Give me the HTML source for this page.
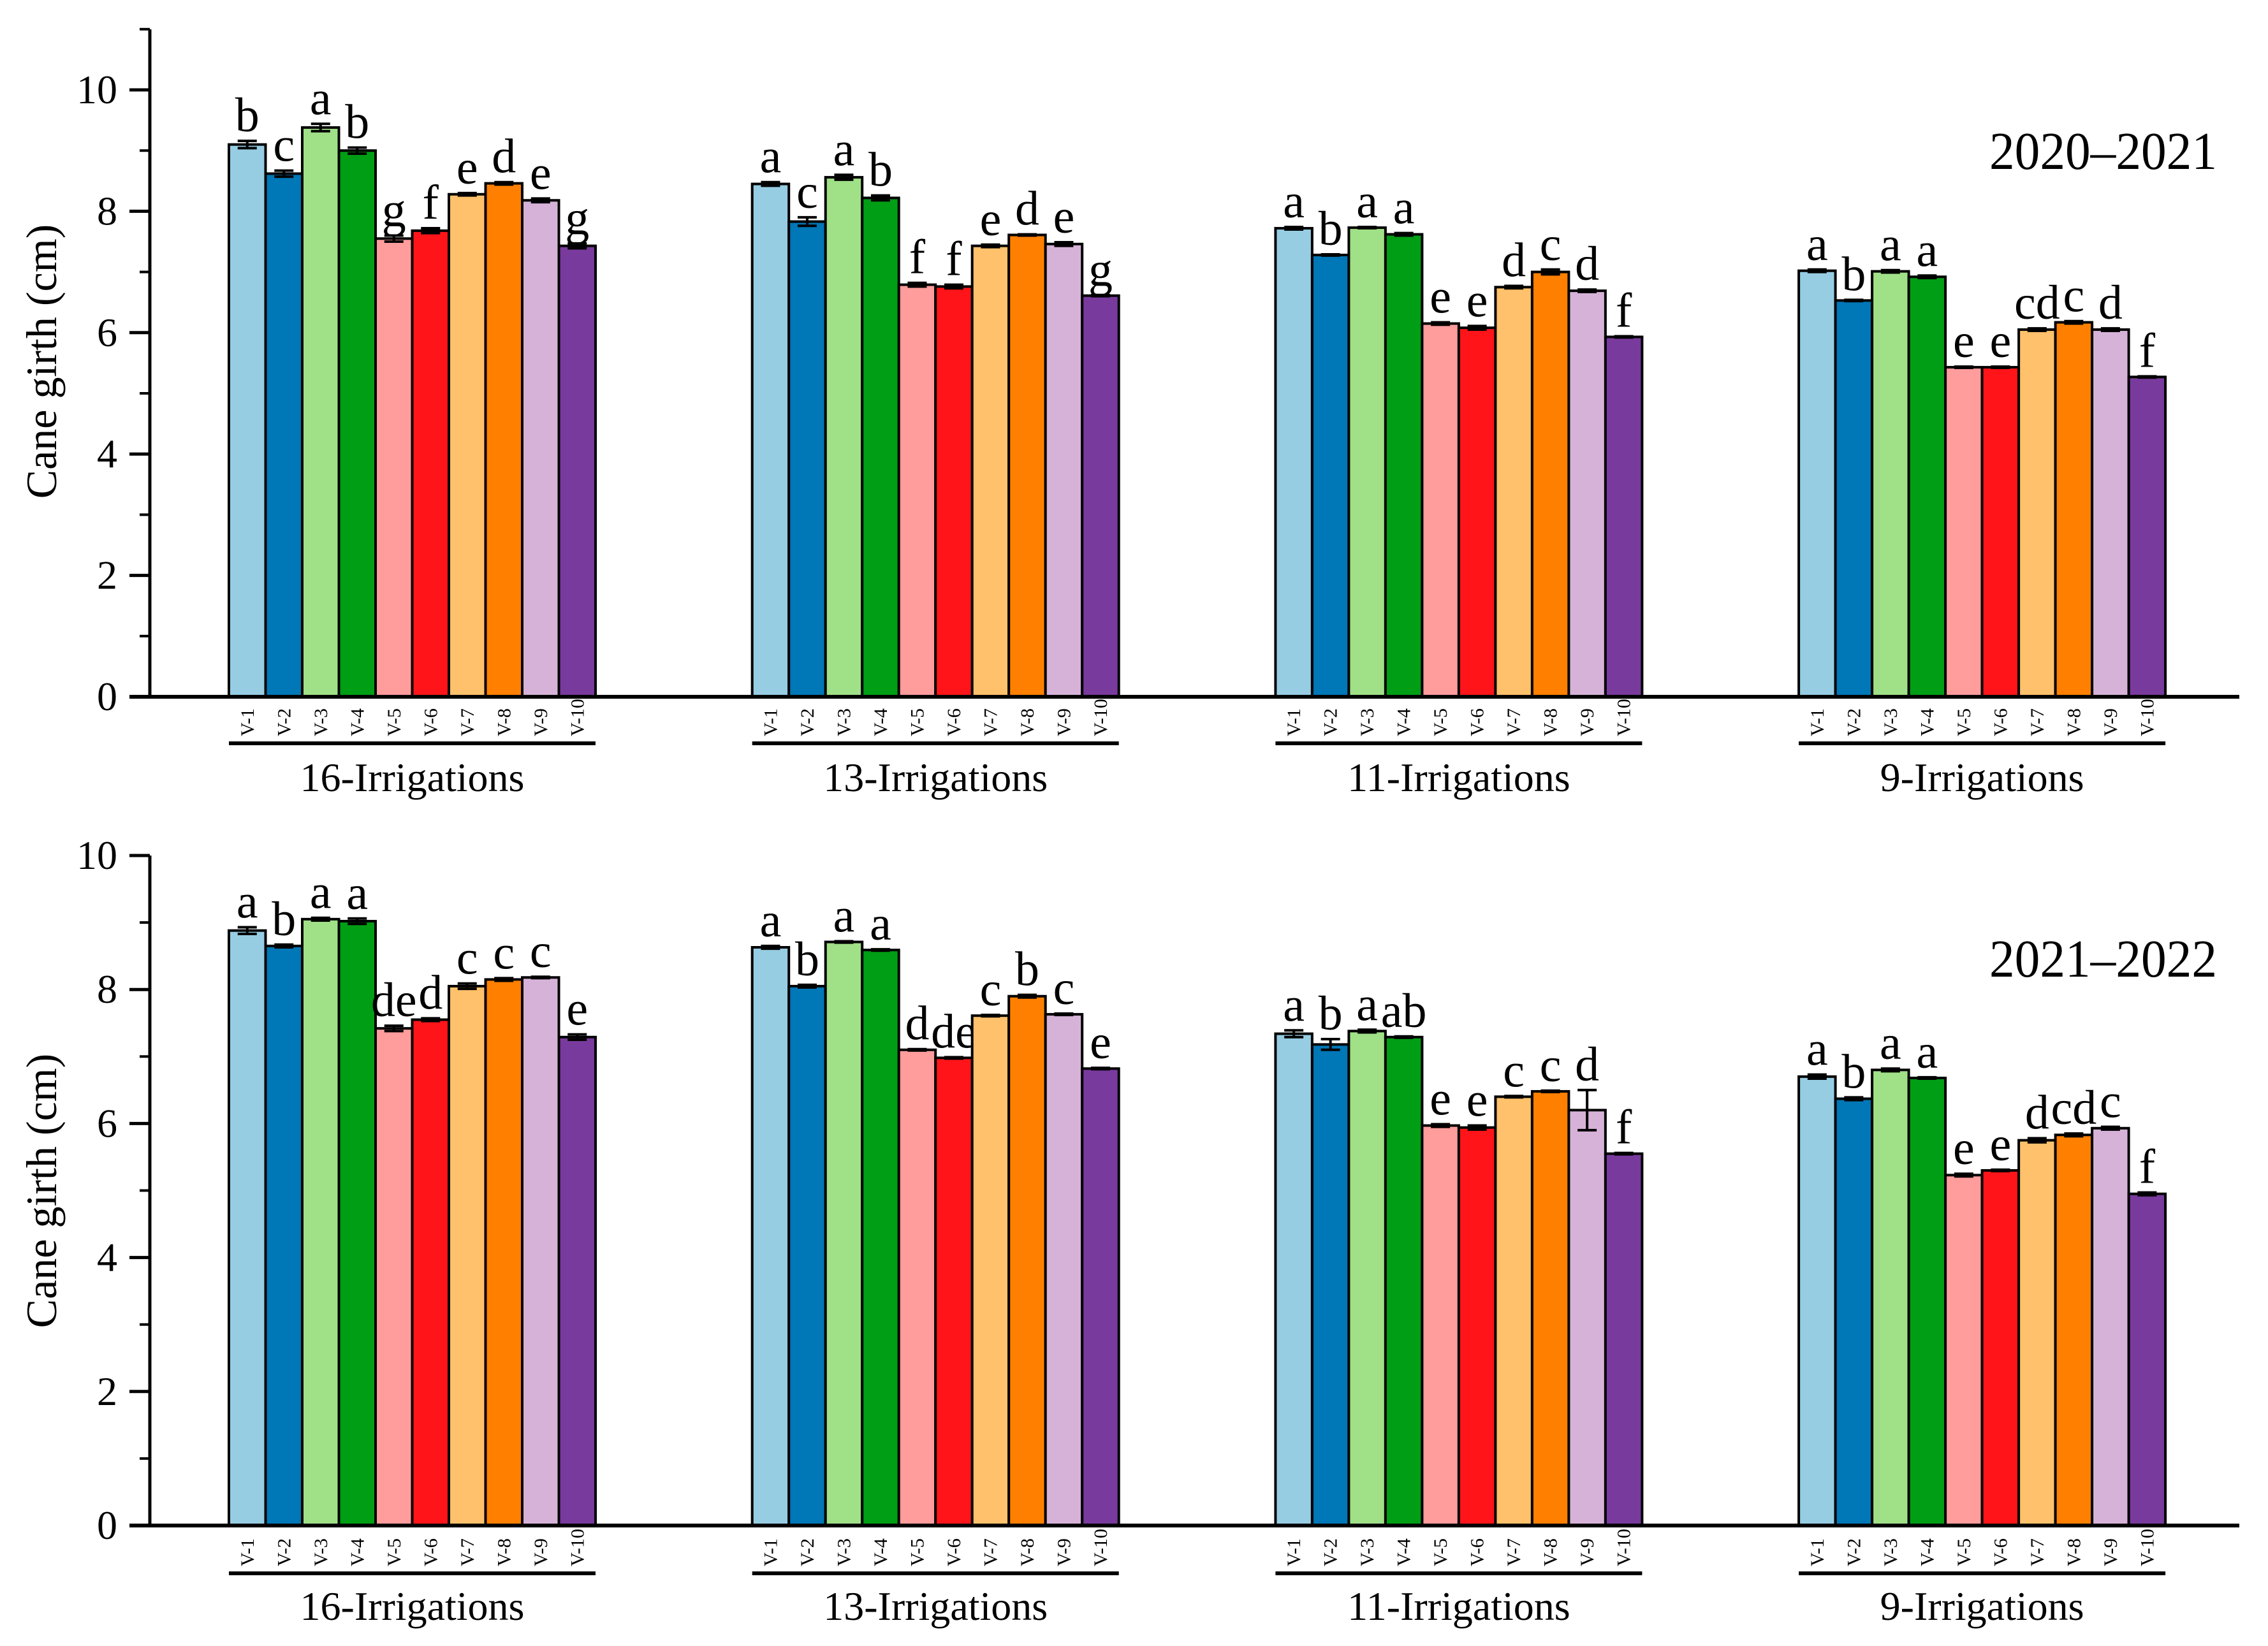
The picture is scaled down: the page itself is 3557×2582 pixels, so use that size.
<!DOCTYPE html>
<html><head><meta charset="utf-8"><style>
html,body{margin:0;padding:0;background:#fff}
svg{display:block}
svg text{font-family:"Liberation Serif","Times New Roman",serif !important;fill:#000}
</style></head>
<body>
<svg id="chart" xmlns="http://www.w3.org/2000/svg" width="3557" height="2582" viewBox="0 0 3557 2582" font-family="Liberation Serif, serif"></svg>
<script>
// ---- data ----
const groups = ["16-Irrigations","13-Irrigations","11-Irrigations","9-Irrigations"];
const varieties = ["V-1","V-2","V-3","V-4","V-5","V-6","V-7","V-8","V-9","V-10"];
const colors = ["#96cde3","#0077b6","#a0e087","#009e14","#ff9c9c","#ff1519","#ffc16b","#ff8000","#d6b2d8","#783a9c"];
const yTicks = [0,2,4,6,8,10];
const years = ["2020–2021","2021–2022"];
// 2020-2021
const s1_16 = [9.10,8.62,9.38,9.00,7.55,7.68,8.28,8.46,8.18,7.43];
const s1_13 = [8.45,7.83,8.56,8.22,6.79,6.76,7.43,7.61,7.46,6.61];
const s1_11 = [7.72,7.28,7.73,7.62,6.15,6.08,6.75,7.00,6.69,5.93];
const s1_9  = [7.02,6.53,7.01,6.92,5.43,5.43,6.05,6.17,6.05,5.27];
const e1_16 = [0.06,0.05,0.06,0.05,0.05,0.04,0.02,0.02,0.03,0.04];
const e1_13 = [0.03,0.07,0.04,0.04,0.03,0.03,0.02,0.01,0.03,0.01];
const e1_11 = [0.02,0.01,0.01,0.02,0.02,0.03,0.02,0.04,0.02,0.01];
const e1_9  = [0.02,0.01,0.02,0.02,0.01,0.01,0.02,0.02,0.02,0.01];
const l1_16 = ["b","c","a","b","g","f","e","d","e","g"];
const l1_13 = ["a","c","a","b","f","f","e","d","e","g"];
const l1_11 = ["a","b","a","a","e","e","d","c","d","f"];
const l1_9  = ["a","b","a","a","e","e","cd","c","d","f"];
// 2021-2022
const s2_16 = [8.88,8.65,9.05,9.02,7.42,7.55,8.05,8.15,8.18,7.29];
const s2_13 = [8.63,8.05,8.71,8.59,7.10,6.98,7.61,7.90,7.63,6.82];
const s2_11 = [7.34,7.18,7.38,7.29,5.97,5.94,6.40,6.48,6.20,5.55];
const s2_9  = [6.70,6.37,6.80,6.68,5.23,5.30,5.75,5.83,5.93,4.95];
const e2_16 = [0.05,0.02,0.02,0.04,0.04,0.02,0.04,0.02,0.01,0.04];
const e2_13 = [0.02,0.02,0.01,0.01,0.01,0.01,0.01,0.02,0.01,0.01];
const e2_11 = [0.05,0.08,0.02,0.01,0.02,0.03,0.01,0.01,0.30,0.01];
const e2_9  = [0.03,0.02,0.02,0.01,0.02,0.01,0.03,0.02,0.02,0.02];
const l2_16 = ["a","b","a","a","de","d","c","c","c","e"];
const l2_13 = ["a","b","a","a","d","de","c","b","c","e"];
const l2_11 = ["a","b","a","ab","e","e","c","c","d","f"];
const l2_9  = ["a","b","a","a","e","e","d","cd","c","f"];

const panelVals = [[s1_16,s1_13,s1_11,s1_9],[s2_16,s2_13,s2_11,s2_9]];
const panelErrs = [[e1_16,e1_13,e1_11,e1_9],[e2_16,e2_13,e2_11,e2_9]];
const panelLets = [[l1_16,l1_13,l1_11,l1_9],[l2_16,l2_13,l2_11,l2_9]];

// ---- layout ----
const NS="http://www.w3.org/2000/svg";
const svg=document.getElementById('chart');
const FF='Liberation Serif, Times New Roman, serif';
function el(tag,attrs,parent){const e=document.createElementNS(NS,tag);for(const k in attrs)e.setAttribute(k,attrs[k]);if(tag==='text')e.setAttribute('font-family',FF);(parent||svg).appendChild(e);return e;}

const panels=[
 {y0:1093,y10:141,top:46,ymax:11,under:1166,labBottom:1155,grpBase:1241,yearBase:265,titleY:567},
 {y0:2393,y10:1342,top:1342,ymax:10,under:2468,labBottom:2457,grpBase:2541,yearBase:1532,titleY:1868}
];
const axisX=235, axisEnd=3512, groupLeft0=359, groupStep=820.7, barW=57.5;

panels.forEach((p,pi)=>{
  const g=el('g',{});
  
  
  const y=v=>p.y0-(p.y0-p.y10)*v/10;
  const x=(gi,vi)=>groupLeft0+gi*groupStep+vi*barW;
  groups.forEach((gn,gi)=>{
    const vals=panelVals[pi][gi], errs=panelErrs[pi][gi], lets=panelLets[pi][gi];
    vals.forEach((v,vi)=>{
      const r=el('rect',{x:x(gi,vi),y:y(v),width:barW,height:p.y0-y(v),fill:colors[vi],stroke:'#000','stroke-width':4},g);
      
      
      const cx=x(gi,vi)+barW/2, yt=y(v+errs[vi]), yb=y(v-errs[vi]);
      const eb=el('path',{d:`M${cx-15},${yt}H${cx+15}M${cx},${yt}V${yb}M${cx-15},${yb}H${cx+15}`,stroke:'#000','stroke-width':4,fill:'none'},g);
      
      
      const t=el('text',{x:cx,y:yt-15,'text-anchor':'middle','font-size':76},g);
      t.textContent=lets[vi];
      
      
      const tl=el('text',{transform:`translate(${cx+10},${p.labBottom}) rotate(-90)`,'font-size':30},g);
      tl.textContent=varieties[vi];
      
      
    });
    const gl=x(gi,0), gr=x(gi,10);
    const ul=el('line',{x1:gl,x2:gr,y1:p.under,y2:p.under,stroke:'#000','stroke-width':6},g);
    
    
    const gt=el('text',{x:(gl+gr)/2,y:p.grpBase,'text-anchor':'middle','font-size':64},g);
    gt.textContent=gn;
    
    
  });
  const ya=el('line',{x1:axisX,x2:axisX,y1:p.top,y2:p.y0+3,stroke:'#000','stroke-width':5},g);
  
  
  const xa=el('line',{x1:axisX-32,x2:axisEnd,y1:p.y0,y2:p.y0,stroke:'#000','stroke-width':6},g);
  
  
  for(let v=1; v<=p.ymax; v+=2){
    const mt=el('line',{x1:axisX-16,x2:axisX,y1:y(v),y2:y(v),stroke:'#000','stroke-width':4},g);
    
    
  }
  yTicks.forEach(v=>{
    const tk=el('line',{x1:axisX-32,x2:axisX,y1:y(v),y2:y(v),stroke:'#000','stroke-width':5},g);
    
    
    const tt=el('text',{x:184,y:y(v)+21,'text-anchor':'end','font-size':64},g);
    tt.textContent=v;
    
    
  });
  const yt=el('text',{transform:`translate(88,${p.titleY}) rotate(-90)`,'text-anchor':'middle','font-size':68},g);
  yt.textContent='Cane girth (cm)';
  
  
  const yr=el('text',{x:3120,y:p.yearBase,'font-size':84,textLength:357,lengthAdjust:'spacingAndGlyphs'},g);
  yr.textContent=years[pi];
  
  
});
</script>
</body></html>
